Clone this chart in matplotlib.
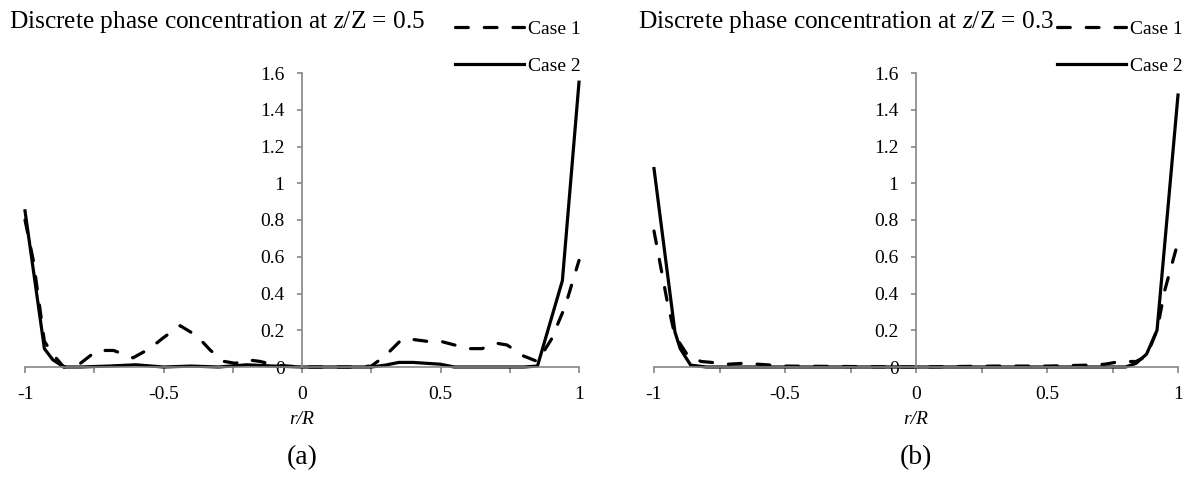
import matplotlib
matplotlib.use("Agg")
import matplotlib.pyplot as plt
from matplotlib.ticker import FixedLocator, FuncFormatter

plt.rcParams['font.family'] = ['Liberation Serif', 'DejaVu Serif']
plt.rcParams['mathtext.fontset'] = 'custom'
plt.rcParams['mathtext.rm'] = 'Liberation Serif'
plt.rcParams['mathtext.it'] = 'Liberation Serif:italic'
plt.rcParams['axes.unicode_minus'] = False

# (a) z/Z = 0.5
a_case1_r = [-1, -0.97, -0.93, -0.9, -0.86, -0.8, -0.74, -0.68, -0.61, -0.55, -0.5, -0.44,
             -0.38, -0.33, -0.28, -0.24, -0.2, -0.15, -0.1, -0.05, 0, 0.1, 0.2, 0.25,
             0.3, 0.36, 0.4, 0.45, 0.5, 0.55, 0.6, 0.65, 0.7, 0.74, 0.8, 0.85, 0.9, 0.95, 1.0]
a_case1_c = [0.80, 0.58, 0.14, 0.07, 0.0, 0.02, 0.09, 0.09, 0.05, 0.1, 0.16, 0.225,
             0.17, 0.09, 0.03, 0.02, 0.04, 0.03, 0.01, 0.005, 0.0, 0.0, 0.0, 0.005,
             0.06, 0.15, 0.15, 0.14, 0.14, 0.12, 0.1, 0.1, 0.13, 0.12, 0.06, 0.03, 0.15, 0.33, 0.58]
a_case2_r = [-1, -0.93, -0.9, -0.86, -0.8, -0.7, -0.6, -0.5, -0.4, -0.3, -0.2, -0.1, 0,
             0.1, 0.25, 0.3, 0.35, 0.4, 0.45, 0.5, 0.55, 0.6, 0.7, 0.8, 0.85, 0.94, 1.0]
a_case2_c = [0.85, 0.10, 0.04, 0.0, 0.0, 0.005, 0.012, 0.0, 0.005, 0.0, 0.012, 0.005, 0.0,
             0.0, 0.0, 0.01, 0.025, 0.025, 0.02, 0.015, 0.0, 0.0, 0.0, 0.0, 0.005, 0.47, 1.55]

# (b) z/Z = 0.3
b_case1_r = [-1, -0.95, -0.92, -0.87, -0.82, -0.78, -0.72, -0.66, -0.6, -0.5, 0, 0.3,
             0.5, 0.65, 0.72, 0.78, 0.84, 0.88, 0.92, 0.95, 1.0]
b_case1_c = [0.74, 0.36, 0.17, 0.06, 0.03, 0.025, 0.015, 0.02, 0.015, 0.005, 0.0, 0.005,
             0.005, 0.01, 0.015, 0.03, 0.03, 0.06, 0.2, 0.42, 0.68]
b_case2_r = [-1, -0.92, -0.9, -0.86, -0.8, -0.6, 0, 0.6, 0.8, 0.84, 0.88, 0.92, 1.0]
b_case2_c = [1.08, 0.19, 0.1, 0.01, 0.0, 0.0, 0.0, 0.0, 0.0, 0.02, 0.07, 0.2, 1.48]

panels = [
    ("Discrete phase concentration at $z/$Z = 0.5", "(a)", a_case1_r, a_case1_c, a_case2_r, a_case2_c),
    ("Discrete phase concentration at $z/$Z = 0.3", "(b)", b_case1_r, b_case1_c, b_case2_r, b_case2_c),
]
x_major = [-1, -0.5, 0, 0.5, 1]
x_minor = [-0.75, -0.25, 0.25, 0.75]
y_ticks = [0, 0.2, 0.4, 0.6, 0.8, 1.0, 1.2, 1.4, 1.6]

W, H = 1201, 479
grey = '#868686'
fig = plt.figure(figsize=(W / 100, H / 100), dpi=100)

# layout in pixels: axes left/right, title x, legend x
layout = [(25, 579, 9, 455), (654, 1178, 638, 1057)]

for (title, tag, r1, c1, r2, c2), (x0, x1, tx, lx) in zip(panels, layout):
    ax = fig.add_axes([x0 / W, 1 - 367 / H, (x1 - x0) / W, 294 / H])
    ax.plot(r1, c1, color='black', lw=2.3, linestyle=(0, (4, 5)),
            dash_capstyle='round', clip_on=False, label='Case 1')
    ax.plot(r2, c2, color='black', lw=2.3, clip_on=False, label='Case 2')

    ax.set_xlim(-1, 1)
    ax.set_ylim(0, 1.6)
    ax.spines['top'].set_visible(False)
    ax.spines['right'].set_visible(False)
    ax.spines['left'].set_position(('data', 0))
    for s in ['left', 'bottom']:
        ax.spines[s].set_color(grey)
        ax.spines[s].set_linewidth(1.2)
    ax.xaxis.set_major_locator(FixedLocator(x_major))
    ax.xaxis.set_minor_locator(FixedLocator(x_minor))
    ax.yaxis.set_major_locator(FixedLocator(y_ticks))
    fmt = FuncFormatter(lambda v, p: f"{v:g}")
    ax.xaxis.set_major_formatter(fmt)
    ax.yaxis.set_major_formatter(fmt)
    ax.tick_params(axis='x', which='both', direction='out', length=4.5, width=1.2,
                   color=grey, labelsize=14, pad=9)
    ax.tick_params(axis='y', direction='out', length=3.6, width=1.2,
                   color=grey, labelsize=14, pad=9)

    ax.set_xlabel('r/R', fontsize=14, fontstyle='italic')
    ax.xaxis.set_label_coords(0.5, -0.15)

    fig.text(tx / W, 1 - 28 / H, title, fontsize=18.3, va='baseline', ha='left')
    fig.text((x0 + x1) / 2 / W, 1 - 458 / H, tag, fontsize=20, va='center', ha='center')

    ax.legend(frameon=False, loc='upper left', bbox_to_anchor=(lx / W, 1 - 20 / H),
              bbox_transform=fig.transFigure, borderpad=0, borderaxespad=0,
              handlelength=3.55, handletextpad=0.2, labelspacing=1.0, fontsize=14)

fig.savefig('out.png', dpi=100)
